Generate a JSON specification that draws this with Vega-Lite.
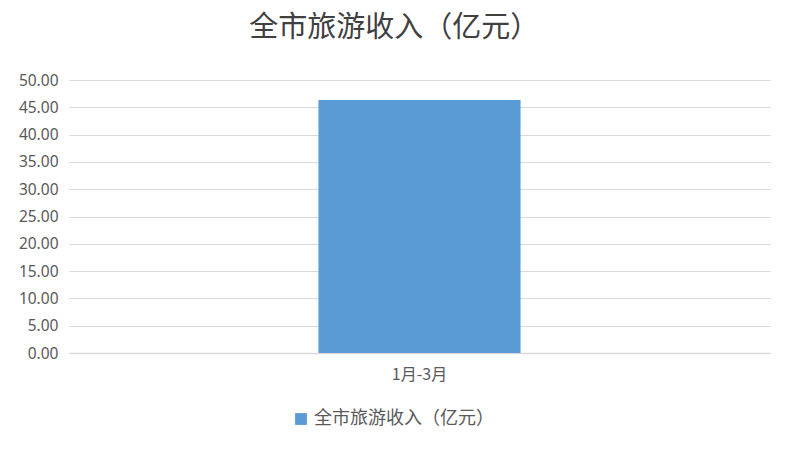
{
  "$schema": "https://vega.github.io/schema/vega-lite/v6.json",
  "width": 701,
  "height": 273,
  "autosize": "none",
  "padding": {"left": 69, "top": 80, "right": 24, "bottom": 99},
  "background": "white",
  "title": {
    "text": "全市旅游收入（亿元）",
    "font": "Noto Sans CJK SC",
    "fontSize": 29,
    "fontWeight": "normal",
    "color": "#404040",
    "anchor": "middle",
    "frame": "bounds",
    "offset": 30
  },
  "data": {
    "values": [
      {"period": "1月-3月", "series": "全市旅游收入（亿元）", "value": 46.33}
    ]
  },
  "mark": {"type": "bar", "color": "#5b9bd5"},
  "encoding": {
    "x": {
      "field": "period",
      "type": "nominal",
      "title": null,
      "scale": {"paddingInner": 0.19, "paddingOuter": 1},
      "axis": {
        "labelAngle": 0,
        "labelFont": "Noto Sans CJK SC",
        "labelFontSize": 16,
        "labelColor": "#595959",
        "labelPadding": 13,
        "ticks": false,
        "domainColor": "#d9d9d9",
        "domainWidth": 1.5
      }
    },
    "y": {
      "field": "value",
      "type": "quantitative",
      "title": null,
      "scale": {"domain": [0, 50]},
      "axis": {
        "values": [0, 5, 10, 15, 20, 25, 30, 35, 40, 45, 50],
        "format": ".2f",
        "labelFont": "Noto Sans",
        "labelFontSize": 15.5,
        "labelColor": "#595959",
        "labelPadding": 11,
        "ticks": false,
        "domain": false,
        "gridColor": "#d9d9d9",
        "gridWidth": 1.2
      }
    },
    "color": {
      "field": "series",
      "type": "nominal",
      "scale": {"range": ["#5b9bd5"]},
      "legend": {
        "title": null,
        "orient": "none",
        "legendX": 223,
        "legendY": 330,
        "symbolType": "square",
        "symbolSize": 140,
        "symbolStrokeWidth": 0,
        "labelFont": "Noto Sans CJK SC",
        "labelFontSize": 18,
        "labelLimit": 400,
        "labelColor": "#595959"
      }
    }
  },
  "config": {
    "view": {"stroke": null}
  }
}
